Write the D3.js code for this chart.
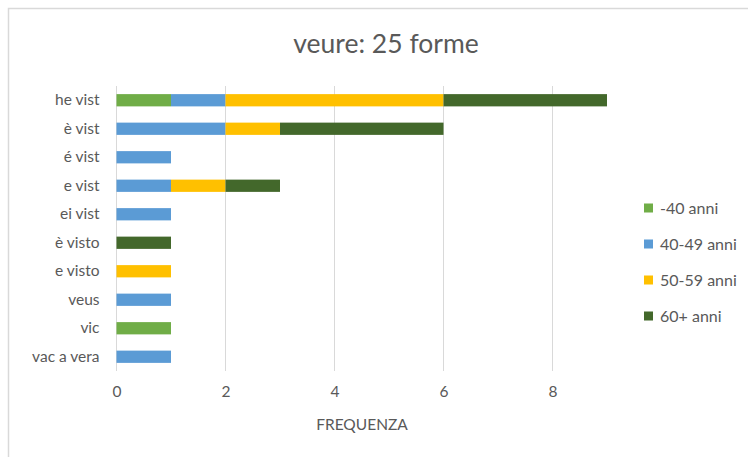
<!DOCTYPE html>
<html>
<head>
<meta charset="utf-8">
<script src="https://cdn.jsdelivr.net/npm/d3@7"></script>
<style>
  body { margin: 0; background: #fff; }
  svg text { font-family: Lato, "Open Sans", sans-serif; }
</style>
</head>
<body>
<div id="chart"></div>
<script>
const categories = ["he vist", "è vist", "é vist", "e vist", "ei vist", "è visto", "e visto", "veus", "vic", "vac a vera"];
const seriesNames = ["-40 anni", "40-49 anni", "50-59 anni", "60+ anni"];
const under40 = [1, 0, 0, 0, 0, 0, 0, 0, 1, 0];
const age40to49 = [1, 2, 1, 1, 1, 0, 0, 1, 0, 1];
const age50to59 = [4, 1, 0, 1, 0, 0, 1, 0, 0, 0];
const over60 = [3, 3, 0, 1, 0, 1, 0, 0, 0, 0];
const xTicks = [0, 2, 4, 6, 8];

const colors = ["#70ad47", "#5b9bd5", "#ffc000", "#43682b"];
const W = 748, H = 457;

const rows = categories.map((c, i) => ({
    cat: c,
    "-40 anni": under40[i],
    "40-49 anni": age40to49[i],
    "50-59 anni": age50to59[i],
    "60+ anni": over60[i]
}));

const stacked = d3.stack().keys(seriesNames)(rows);

const svg = d3.select("#chart").append("svg")
    .attr("width", W)
    .attr("height", H);

// chart frame
svg.append("rect")
    .attr("x", 8.5).attr("y", 8.5)
    .attr("width", W).attr("height", H)
    .attr("fill", "#fff")
    .attr("stroke", "#d9d9d9")
    .attr("stroke-width", 1.5);

const x = d3.scaleLinear().domain([0, 9]).range([116.5, 607]);
const y = d3.scaleBand().domain(categories).range([86, 371]).paddingInner(0.57).paddingOuter(0.285);

// gridlines
svg.append("g")
    .selectAll("line")
    .data(xTicks)
    .enter()
    .append("line")
    .attr("x1", d => x(d)).attr("x2", d => x(d))
    .attr("y1", 86).attr("y2", 371)
    .attr("stroke", "#d9d9d9")
    .attr("stroke-width", 1);

// bars
svg.append("g")
    .selectAll("g")
    .data(stacked)
    .enter()
    .append("g")
    .attr("fill", (d, i) => colors[i])
    .selectAll("rect")
    .data(d => d.filter(p => p[1] > p[0]))
    .enter()
    .append("rect")
    .attr("x", d => x(d[0]))
    .attr("y", d => y(d.data.cat))
    .attr("width", d => x(d[1]) - x(d[0]))
    .attr("height", y.bandwidth());

// x axis labels
const xAxis = svg.append("g")
    .attr("transform", "translate(0,371)")
    .call(d3.axisBottom(x).tickValues(xTicks).tickSize(0).tickPadding(15));
xAxis.select(".domain").remove();
xAxis.selectAll("text")
    .style("font-size", "15.5px")
    .attr("fill", "#595959");

// y axis labels
const yAxis = svg.append("g")
    .attr("transform", "translate(116.5,0)")
    .call(d3.axisLeft(y).tickSize(0).tickPadding(17));
yAxis.select(".domain").remove();
yAxis.selectAll("text")
    .style("font-size", "15.5px")
    .attr("fill", "#595959");

// title
svg.append("text")
    .attr("x", 386).attr("y", 53)
    .attr("text-anchor", "middle")
    .style("font-size", "26.5px")
    .attr("fill", "#595959")
    .text("veure: 25 forme");

// x axis title
svg.append("text")
    .attr("x", 362).attr("y", 430)
    .attr("text-anchor", "middle")
    .style("font-size", "15.5px")
    .attr("fill", "#595959")
    .text("FREQUENZA");

// legend
const legend = svg.append("g")
    .selectAll("g")
    .data(seriesNames)
    .enter()
    .append("g")
    .attr("transform", (d, i) => `translate(644,${208 + i * 36})`);

legend.append("rect")
    .attr("x", 0).attr("y", -4.5)
    .attr("width", 9).attr("height", 9)
    .attr("fill", (d, i) => colors[i]);

legend.append("text")
    .attr("x", 16).attr("y", 0)
    .attr("dy", "0.35em")
    .style("font-size", "16px")
    .attr("fill", "#595959")
    .text(d => d);
</script>
</body>
</html>
